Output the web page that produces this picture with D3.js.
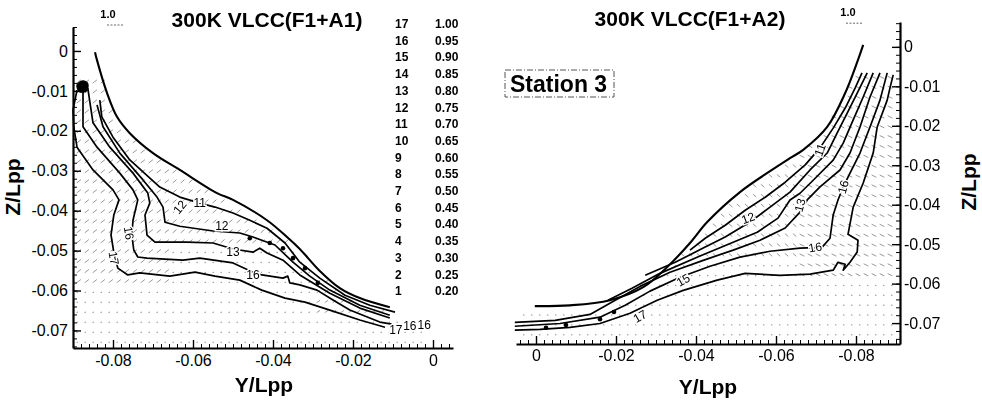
<!DOCTYPE html>
<html><head><meta charset="utf-8">
<script src="https://cdn.jsdelivr.net/npm/d3@7/dist/d3.min.js"></script>
<style>
html,body{margin:0;padding:0;background:#fff;}
svg{display:block;font-family:"Liberation Sans",Arial,Helvetica,sans-serif;}
.lbl{opacity:0.999;}
</style></head><body>
<svg id="c" width="982" height="402"></svg>
<script>
// ---------------- data ----------------
const legendLevels = [17,16,15,14,13,12,11,10,9,8,7,6,5,4,3,2,1];
const legendValues = [1.00,0.95,0.90,0.85,0.80,0.75,0.70,0.65,0.60,0.55,0.50,0.45,0.40,0.35,0.30,0.25,0.20];
const zTicks = [0,-0.01,-0.02,-0.03,-0.04,-0.05,-0.06,-0.07];
const xTicksLeft = [-0.08,-0.06,-0.04,-0.02,0];
const xTicksRight = [0,-0.02,-0.04,-0.06,-0.08];

// measurement grid (Y/Lpp, Z/Lpp)
const gridY = [0.003,0.001,-0.001,-0.003,-0.005,-0.007,-0.009,-0.011,-0.013,-0.015,-0.017,-0.019,-0.021,-0.023,-0.025,-0.027,-0.029,-0.031,-0.033,-0.035,-0.037,-0.039,-0.041,-0.043,-0.045,-0.047,-0.049,-0.051,-0.053,-0.055,-0.057,-0.059,-0.061,-0.063,-0.065,-0.067,-0.069,-0.071,-0.073,-0.075,-0.077,-0.079,-0.081,-0.083,-0.085,-0.087,-0.089];
const gridZ = [-0.008,-0.0105,-0.013,-0.0155,-0.018,-0.0205,-0.023,-0.0255,-0.028,-0.0305,-0.033,-0.0355,-0.038,-0.0405,-0.043,-0.0455,-0.048,-0.0505,-0.053,-0.0555,-0.058,-0.0605,-0.063,-0.0655,-0.068,-0.0705,-0.073];

// hull sections
const hullLeft = [[-0.0845,-0.0003],[-0.0840,-0.0023],[-0.0815,-0.0105],[-0.0790,-0.0165],[-0.0758,-0.0206],[-0.0700,-0.0256],[-0.0633,-0.0298],[-0.0540,-0.0356],[-0.0500,-0.0373],[-0.0415,-0.0424],[-0.0365,-0.0466],[-0.0333,-0.0496],[-0.0283,-0.0551],[-0.0233,-0.0594],[-0.0183,-0.0619],[-0.0108,-0.0642]];
const hullRight = [[0.0003,-0.0657],[-0.0085,-0.0655],[-0.0185,-0.0642],[-0.0268,-0.0609],[-0.0328,-0.0558],[-0.0385,-0.0497],[-0.0428,-0.0444],[-0.0510,-0.0368],[-0.0585,-0.0315],[-0.0635,-0.0282],[-0.0668,-0.0261],[-0.0728,-0.0203],[-0.0773,-0.0117],[-0.0805,-0.0033],[-0.0818,0.0005]];

// left panel contours (F1+A1)
const cL17 = [[-0.0890,-0.0098],[-0.0900,-0.0148],[-0.0898,-0.0190],[-0.0890,-0.0241],[-0.0850,-0.0298],[-0.0800,-0.0348],[-0.0785,-0.0373],[-0.0798,-0.0411],[-0.0805,-0.0461],[-0.0798,-0.0504],[-0.0788,-0.0544],[-0.0763,-0.0561],[-0.0733,-0.0556],[-0.0658,-0.0564],[-0.0595,-0.0554],[-0.0545,-0.0564],[-0.0483,-0.0574],[-0.0428,-0.0599],[-0.0370,-0.0619],[-0.0320,-0.0629],[-0.0258,-0.0649],[-0.0183,-0.0674],[-0.0120,-0.0692]];
const cL16 = [[-0.0875,-0.0098],[-0.0875,-0.0190],[-0.0840,-0.0241],[-0.0783,-0.0306],[-0.0750,-0.0348],[-0.0738,-0.0373],[-0.0750,-0.0424],[-0.0753,-0.0461],[-0.0748,-0.0499],[-0.0738,-0.0516],[-0.0715,-0.0519],[-0.0625,-0.0524],[-0.0583,-0.0519],[-0.0500,-0.0531],[-0.0440,-0.0559],[-0.0375,-0.0569],[-0.0363,-0.0564],[-0.0358,-0.0581],[-0.0333,-0.0586],[-0.0290,-0.0599],[-0.0250,-0.0624],[-0.0208,-0.0649],[-0.0133,-0.0679],[-0.0103,-0.0684]];
const cL13 = [[-0.0863,-0.0093],[-0.0850,-0.0180],[-0.0808,-0.0241],[-0.0750,-0.0306],[-0.0713,-0.0356],[-0.0708,-0.0381],[-0.0720,-0.0411],[-0.0715,-0.0461],[-0.0695,-0.0479],[-0.0615,-0.0479],[-0.0550,-0.0481],[-0.0500,-0.0496],[-0.0450,-0.0504],[-0.0433,-0.0494],[-0.0415,-0.0506],[-0.0375,-0.0524],[-0.0333,-0.0561],[-0.0258,-0.0607],[-0.0183,-0.0644],[-0.0108,-0.0669]];
const cL12 = [[-0.0840,-0.0135],[-0.0825,-0.0190],[-0.0783,-0.0256],[-0.0725,-0.0323],[-0.0690,-0.0366],[-0.0675,-0.0391],[-0.0670,-0.0429],[-0.0633,-0.0439],[-0.0550,-0.0451],[-0.0483,-0.0456],[-0.0450,-0.0466],[-0.0428,-0.0474],[-0.0395,-0.0486],[-0.0350,-0.0529],[-0.0308,-0.0564],[-0.0258,-0.0599],[-0.0183,-0.0637],[-0.0108,-0.0662]];
const cL11 = [[-0.0833,-0.0123],[-0.0828,-0.0165],[-0.0800,-0.0216],[-0.0758,-0.0273],[-0.0683,-0.0341],[-0.0633,-0.0366],[-0.0583,-0.0381],[-0.0545,-0.0391],[-0.0500,-0.0406],[-0.0458,-0.0424],[-0.0415,-0.0444],[-0.0370,-0.0481],[-0.0333,-0.0529],[-0.0283,-0.0569],[-0.0220,-0.0612],[-0.0158,-0.0637],[-0.0095,-0.0654]];
const blobLeft = [[-0.0890,-0.0085],[-0.0876,-0.0075],[-0.0863,-0.0082],[-0.0866,-0.0100],[-0.0884,-0.0102]];
const knotsLeft = [[-0.0458,-0.0469],[-0.0408,-0.0481],[-0.0375,-0.0494],[-0.0350,-0.0519],[-0.0320,-0.0544],[-0.0288,-0.0581]];

// right panel contours (F1+A2)
const cR17 = [[0.0053,-0.0718],[-0.0010,-0.0716],[-0.0085,-0.0711],[-0.0160,-0.0701],[-0.0235,-0.0675],[-0.0303,-0.0642],[-0.0368,-0.0617],[-0.0453,-0.0591],[-0.0523,-0.0574],[-0.0610,-0.0579],[-0.0685,-0.0576],[-0.0743,-0.0566],[-0.0755,-0.0546],[-0.0773,-0.0551],[-0.0768,-0.0566],[-0.0785,-0.0546],[-0.0803,-0.0520],[-0.0805,-0.0490],[-0.0780,-0.0475],[-0.0793,-0.0406],[-0.0818,-0.0345],[-0.0843,-0.0269],[-0.0853,-0.0203],[-0.0878,-0.0135],[-0.0885,-0.0104],[-0.0893,-0.0071]];
const cR16 = [[0.0053,-0.0708],[-0.0060,-0.0701],[-0.0160,-0.0685],[-0.0223,-0.0655],[-0.0285,-0.0619],[-0.0360,-0.0584],[-0.0435,-0.0556],[-0.0510,-0.0533],[-0.0585,-0.0518],[-0.0660,-0.0510],[-0.0715,-0.0508],[-0.0735,-0.0485],[-0.0743,-0.0426],[-0.0755,-0.0388],[-0.0768,-0.0355],[-0.0785,-0.0320],[-0.0810,-0.0269],[-0.0835,-0.0203],[-0.0860,-0.0135],[-0.0878,-0.0066]];
const cR15 = [[0.0053,-0.0698],[-0.0048,-0.0693],[-0.0135,-0.0678],[-0.0198,-0.0642],[-0.0260,-0.0607],[-0.0335,-0.0571],[-0.0418,-0.0541],[-0.0493,-0.0515],[-0.0560,-0.0490],[-0.0623,-0.0459],[-0.0660,-0.0419],[-0.0678,-0.0388],[-0.0710,-0.0355],[-0.0760,-0.0312],[-0.0785,-0.0269],[-0.0810,-0.0203],[-0.0835,-0.0127],[-0.0860,-0.0066]];
const cR13 = [[-0.0180,-0.0642],[-0.0240,-0.0612],[-0.0310,-0.0574],[-0.0410,-0.0530],[-0.0493,-0.0495],[-0.0553,-0.0470],[-0.0605,-0.0434],[-0.0635,-0.0388],[-0.0660,-0.0371],[-0.0693,-0.0338],[-0.0743,-0.0287],[-0.0768,-0.0244],[-0.0793,-0.0185],[-0.0818,-0.0127],[-0.0843,-0.0066]];
const cR12 = [[-0.0273,-0.0579],[-0.0348,-0.0546],[-0.0418,-0.0510],[-0.0473,-0.0482],[-0.0535,-0.0444],[-0.0585,-0.0406],[-0.0635,-0.0368],[-0.0685,-0.0312],[-0.0728,-0.0269],[-0.0753,-0.0218],[-0.0778,-0.0168],[-0.0803,-0.0117],[-0.0828,-0.0066]];
const cR11 = [[-0.0385,-0.0515],[-0.0423,-0.0485],[-0.0473,-0.0452],[-0.0523,-0.0414],[-0.0573,-0.0381],[-0.0623,-0.0343],[-0.0673,-0.0299],[-0.0710,-0.0256],[-0.0743,-0.0206],[-0.0773,-0.0155],[-0.0798,-0.0104],[-0.0815,-0.0066]];
const knotsRight = [[-0.0025,-0.0712],[-0.0075,-0.0705],[-0.0160,-0.0690],[-0.0195,-0.0672],[-0.0368,-0.0598]];

// contour labels: text, Y, Z, angle
const labelsLeft = [["11",-0.0583,-0.0381,0],["12",-0.0633,-0.0391,-50],["12",-0.0528,-0.0439,0],["13",-0.0500,-0.0504,0],["16",-0.0450,-0.0561,0],["16",-0.0760,-0.0456,80],["17",-0.0798,-0.0519,80],["17",-0.0093,-0.0699,0],["16",-0.0058,-0.0689,0],["16",-0.0022,-0.0687,0]];
const labelsRight = [["11",-0.0710,-0.0261,-70],["12",-0.0530,-0.0434,-20],["13",-0.0660,-0.0401,-75],["16",-0.0768,-0.0355,-75],["16",-0.0698,-0.0508,-10],["15",-0.0368,-0.0591,-30],["17",-0.0260,-0.0683,-30]];

// velocity zones: Y range, Z range, (v, w)
const zonesLeft = [[-0.091,-0.066,-0.058,-0.006,0.0009,0.0007],[-0.066,-0.030,-0.050,-0.020,0.0008,0.0007],[-0.030,0.000,-0.066,-0.050,0.0007,0.0005]];
const zonesRight = [[-0.092,-0.066,-0.060,-0.006,0.0010,0.0005],[-0.066,-0.035,-0.055,-0.025,0.0007,0.0006]];

// ---------------- drawing ----------------
const svg = d3.select("#c");
const fmt = v => Math.abs(v) < 1e-9 ? "0" : v.toFixed(2);

function hullZ(hull, Y) {
  const h = hull.slice().sort((a,b)=>a[0]-b[0]);
  if (Y < h[0][0]) return Infinity;
  if (Y > h[h.length-1][0]) return h[h.length-1][1];
  for (let i=1;i<h.length;i++) {
    if (Y <= h[i][0]) {
      const t = (Y-h[i-1][0])/(h[i][0]-h[i-1][0]);
      return h[i-1][1] + t*(h[i][1]-h[i-1][1]);
    }
  }
  return h[h.length-1][1];
}
function zoneVec(zones, Y, Z) {
  for (const z of zones) if (Y>=z[0] && Y<=z[1] && Z>=z[2] && Z<=z[3]) return [z[4], z[5], true];
  return [0.00012, 0.00008, false];
}

function panel(cfg) {
  const {xs, ys, hull, contours, labels, zones, yMin, yMax, knots, side, blob} = cfg;
  const g = svg.append("g");
  const [x0,x1] = xs.range(), [y0,y1] = ys.range();

  // vectors
  const pts = [];
  gridY.forEach(Y => {
    if (Y < yMin || Y > yMax) return;
    gridZ.forEach(Z => { if (Z < hullZ(hull, Y) - 0.0015) pts.push([Y, Z]); });
  });
  g.append("g").selectAll("line").data(pts).join("line")
    .each(function(d){
      const v = zoneVec(zones, d[0], d[1]);
      d3.select(this)
        .attr("x1", xs(d[0])).attr("y1", ys(d[1]))
        .attr("x2", xs(d[0]+v[0])).attr("y2", ys(d[1]+v[1]))
        .attr("stroke", v[2] ? "#777" : "#999")
        .attr("stroke-width", v[2] ? 0.75 : 1.1)
        .attr("stroke-linecap", "round");
    });

  // hull
  g.append("path").datum(hull)
    .attr("d", d3.line().x(d=>xs(d[0])).y(d=>ys(d[1])).curve(d3.curveCatmullRom))
    .attr("fill","none").attr("stroke","#000").attr("stroke-width",2.1);

  // contours
  const line = d3.line().x(d=>xs(d[0])).y(d=>ys(d[1])).curve(d3.curveLinear);
  g.append("g").selectAll("path").data(contours).join("path")
    .attr("d", line).attr("fill","none").attr("stroke","#000")
    .attr("stroke-width",1.7).attr("stroke-linejoin","round");
  if (blob) {
    g.append("path").datum(blob)
      .attr("d", d3.line().x(d=>xs(d[0])).y(d=>ys(d[1])).curve(d3.curveCardinalClosed))
      .attr("fill","#000").attr("stroke","#000").attr("stroke-width",1.2);
  }

  g.append("g").selectAll("circle").data(knots).join("circle")
    .attr("cx", d=>xs(d[0])).attr("cy", d=>ys(d[1])).attr("r", 2.3).attr("fill","#000");

  // labels (white halo underneath, black text on top)
  const lb = g.append("g").attr("class","lbl").attr("font-size", 12);
  ["halo","ink"].forEach(kind => {
    lb.append("g").selectAll("text").data(labels).join("text")
      .attr("transform", d=>`translate(${xs(d[1])},${ys(d[2])}) rotate(${d[3]})`)
      .attr("text-anchor","middle").attr("dy","0.35em")
      .attr("fill", kind==="halo" ? "#fff" : "#000")
      .attr("stroke", kind==="halo" ? "#fff" : "none")
      .attr("stroke-width", kind==="halo" ? 3 : 0)
      .text(d=>d[0]);
  });

  // axes
  const minorX = g.append("g").attr("transform",`translate(0,${y1})`)
    .call(d3.axisBottom(xs).ticks(48).tickSize(-4).tickSizeOuter(0).tickFormat(""));
  minorX.select(".domain").remove();
  const ax = g.append("g").attr("transform",`translate(0,${y1})`)
    .call(d3.axisBottom(xs).tickValues(side==="left"?xTicksLeft:xTicksRight).tickSize(-8).tickSizeOuter(0).tickPadding(side==="left"?7:6).tickFormat(fmt));
  ax.attr("font-size",16).attr("font-family","Liberation Sans, Arial, sans-serif");
  ax.select(".domain").attr("stroke-width",2.2);
  ax.selectAll(".tick line").attr("stroke-width",1.4);

  const yAxisX = side==="left" ? x0 : x1;
  const minorY = g.append("g").attr("transform",`translate(${yAxisX},0)`)
    .call((side==="left"?d3.axisLeft(ys):d3.axisRight(ys)).ticks(40).tickSize(-4).tickSizeOuter(0).tickFormat(""));
  minorY.select(".domain").remove();
  const ay = g.append("g").attr("transform",`translate(${yAxisX},0)`)
    .call((side==="left"?d3.axisLeft(ys):d3.axisRight(ys)).tickValues(zTicks).tickSize(-8).tickSizeOuter(0).tickPadding(side==="left"?5:4).tickFormat(fmt));
  ay.attr("font-size",16).attr("font-family","Liberation Sans, Arial, sans-serif");
  ay.select(".domain").attr("stroke-width",2.2);
  ay.selectAll(".tick line").attr("stroke-width",1.4);
  return g;
}

// left panel scales
const xL = d3.scaleLinear().domain([-0.09, 0.005]).range([73, 453]);
const yL = d3.scaleLinear().domain([0.006, -0.0744]).range([27, 348]);
// right panel scales
const xR = d3.scaleLinear().domain([0.005, -0.091]).range([516, 900]);
const yR = d3.scaleLinear().domain([0.0063, -0.0753]).range([22, 344]);

panel({xs:xL, ys:yL, hull:hullLeft, contours:[cL17,cL16,cL13,cL12,cL11], blob:blobLeft,
  labels:labelsLeft, zones:zonesLeft, yMin:-0.0895, yMax:-0.003, knots:knotsLeft, side:"left"});
panel({xs:xR, ys:yR, hull:hullRight, contours:[cR17,cR16,cR15,cR13,cR12,cR11], blob:null,
  labels:labelsRight, zones:zonesRight, yMin:-0.0895, yMax:0.004, knots:knotsRight, side:"right"});

// titles
svg.append("text").attr("x",267).attr("y",27).attr("text-anchor","middle")
  .attr("font-size",21).attr("font-weight","bold").text("300K VLCC(F1+A1)");
svg.append("text").attr("x",690).attr("y",26).attr("text-anchor","middle")
  .attr("font-size",21).attr("font-weight","bold").text("300K VLCC(F1+A2)");

// axis titles
svg.append("text").attr("x",264).attr("y",392).attr("text-anchor","middle")
  .attr("font-size",21).attr("font-weight","bold").text("Y/Lpp");
svg.append("text").attr("x",708).attr("y",394).attr("text-anchor","middle")
  .attr("font-size",21).attr("font-weight","bold").text("Y/Lpp");
svg.append("text").attr("transform","translate(20,187) rotate(-90)").attr("text-anchor","middle")
  .attr("font-size",21).attr("font-weight","bold").text("Z/Lpp");
svg.append("text").attr("transform","translate(976,182) rotate(-90)").attr("text-anchor","middle")
  .attr("font-size",21).attr("font-weight","bold").text("Z/Lpp");

// reference vectors
function refVec(xs, ys, Y, Z, tx, ty) {
  svg.append("line").attr("x1",xs(Y)).attr("y1",ys(Z)).attr("x2",xs(Y+0.004)).attr("y2",ys(Z))
    .attr("stroke","#666").attr("stroke-width",1).attr("stroke-dasharray","2,1.5");
  svg.append("text").attr("x",tx).attr("y",ty).attr("text-anchor","middle")
    .attr("font-size",11).attr("font-weight","bold").text("1.0");
}
refVec(xL, yL, -0.0815, 0.0065, 108, 18);
refVec(xR, yR, -0.0815, 0.0060, 848, 16);

// legend
const lg = svg.append("g").attr("font-size",12).attr("font-weight","bold");
lg.selectAll("text.l").data(legendLevels).join("text").attr("class","l")
  .attr("x",395).attr("y",(d,i)=>28+i*16.7).text(d=>d);
lg.selectAll("text.v").data(legendValues).join("text").attr("class","v")
  .attr("x",435).attr("y",(d,i)=>28+i*16.7).text(d=>d.toFixed(2));

// station label
svg.append("rect").attr("x",505).attr("y",70).attr("width",109).attr("height",27)
  .attr("fill","none").attr("stroke","#555").attr("stroke-width",1).attr("stroke-dasharray","6,2,1,2");
svg.append("text").attr("x",510).attr("y",92).attr("font-size",23).attr("font-weight","bold").text("Station 3");
</script>
</body></html>
